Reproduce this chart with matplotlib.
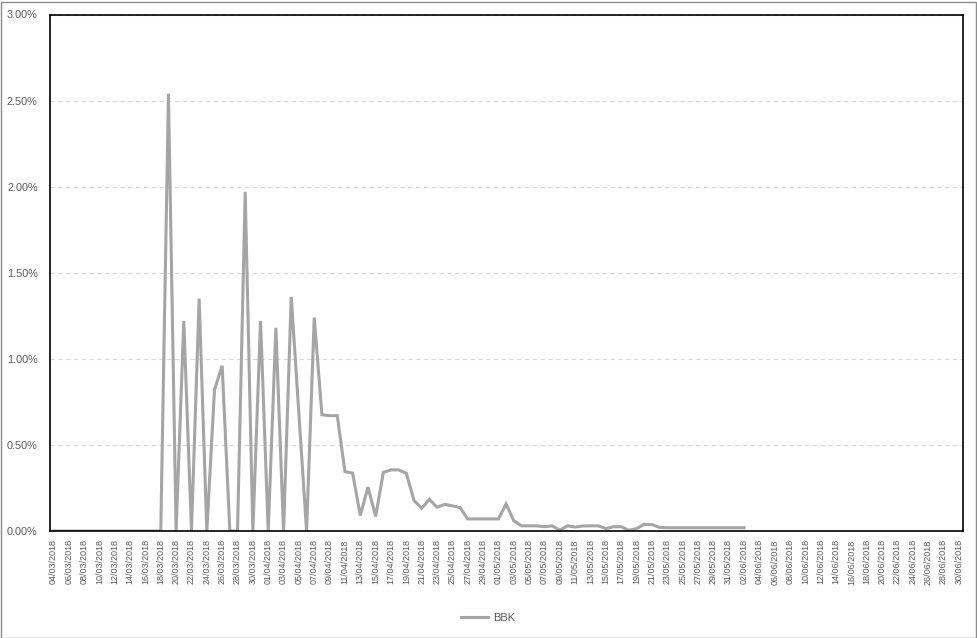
import matplotlib
matplotlib.use("Agg")
import matplotlib.pyplot as plt
import matplotlib.patches as patches
from matplotlib.ticker import FuncFormatter, MultipleLocator
import pandas as pd
import numpy as np

# Categories: daily dates 04/03/2018 .. 30/06/2018
dates = pd.date_range("2018-03-04", "2018-06-30", freq="D")
date_labels = [d.strftime("%d/%m/%Y") for d in dates]

# BBK series values (percent), available through 02/06/2018
bbk = [0, 0, 0, 0, 0, 0, 0, 0, 0, 0, 0, 0, 0, 0, 0,
       2.54, 0, 1.22, 0, 1.35, 0, 0.82, 0.96, 0, 0,
       1.97, 0, 1.22, 0, 1.18, 0, 1.36, 0.68, 0, 1.24,
       0.675, 0.67, 0.67, 0.345, 0.336, 0.09, 0.255, 0.085, 0.34, 0.355,
       0.355, 0.335, 0.177, 0.132, 0.184, 0.138, 0.155, 0.146, 0.136, 0.07,
       0.07, 0.07, 0.07, 0.07, 0.157, 0.06, 0.03, 0.03, 0.03, 0.025,
       0.03, 0.005, 0.03, 0.023, 0.029, 0.03, 0.03, 0.014, 0.025, 0.025,
       0.004, 0.014, 0.039, 0.037, 0.021, 0.019, 0.019, 0.019, 0.019, 0.019,
       0.019, 0.019, 0.019, 0.019, 0.019, 0.019]

series_name = "BBK"

fig = plt.figure(figsize=(9.77, 6.38), dpi=100)
ax = fig.add_axes([49.5 / 977, 1 - 531 / 638, (962.7 - 49.5) / 977, (531 - 14.5) / 638])

x = np.arange(len(bbk))
ax.plot(x, bbk, color="#A5A5A5", linewidth=2.2, solid_joinstyle="miter", label=series_name)

ax.set_xlim(-0.5, len(dates) - 0.5)
ax.set_ylim(0, 3.0)
ax.yaxis.set_major_locator(MultipleLocator(0.5))
ax.yaxis.set_major_formatter(FuncFormatter(lambda v, p: f"{v:.2f}%"))
ax.grid(axis="y", color="#D9D9D9", linestyle=(0, (4, 3)), linewidth=0.8)
ax.set_axisbelow(True)

tick_pos = np.arange(0, len(dates), 2)
ax.set_xticks(tick_pos)
ax.set_xticklabels([date_labels[i] for i in tick_pos], rotation=90,
                   fontsize=6.5, color="#595959", family="Liberation Sans")
for lab in ax.get_yticklabels():
    lab.set_fontsize(7.8)
    lab.set_color("#595959")
    lab.set_family("Liberation Sans")
ax.tick_params(axis="both", length=0)
ax.tick_params(axis="y", pad=8.5)
ax.tick_params(axis="x", pad=6)

for s in ax.spines.values():
    s.set_color("black")
    s.set_linewidth(1.2)

fig.legend(loc="center", bbox_to_anchor=(0.5, 1 - 618 / 638), frameon=False,
           handlelength=2.4, handletextpad=0.5,
           prop={"family": "Liberation Sans", "size": 8},
           labelcolor="#595959")

fig.patches.append(patches.Rectangle((0.5 / 977, 0.5 / 638), 1 - 2 / 977, 1 - 2 / 638,
                                     transform=fig.transFigure, fill=False,
                                     edgecolor="#8C8C8C", linewidth=1.0))

fig.savefig("out.png", dpi=100)
